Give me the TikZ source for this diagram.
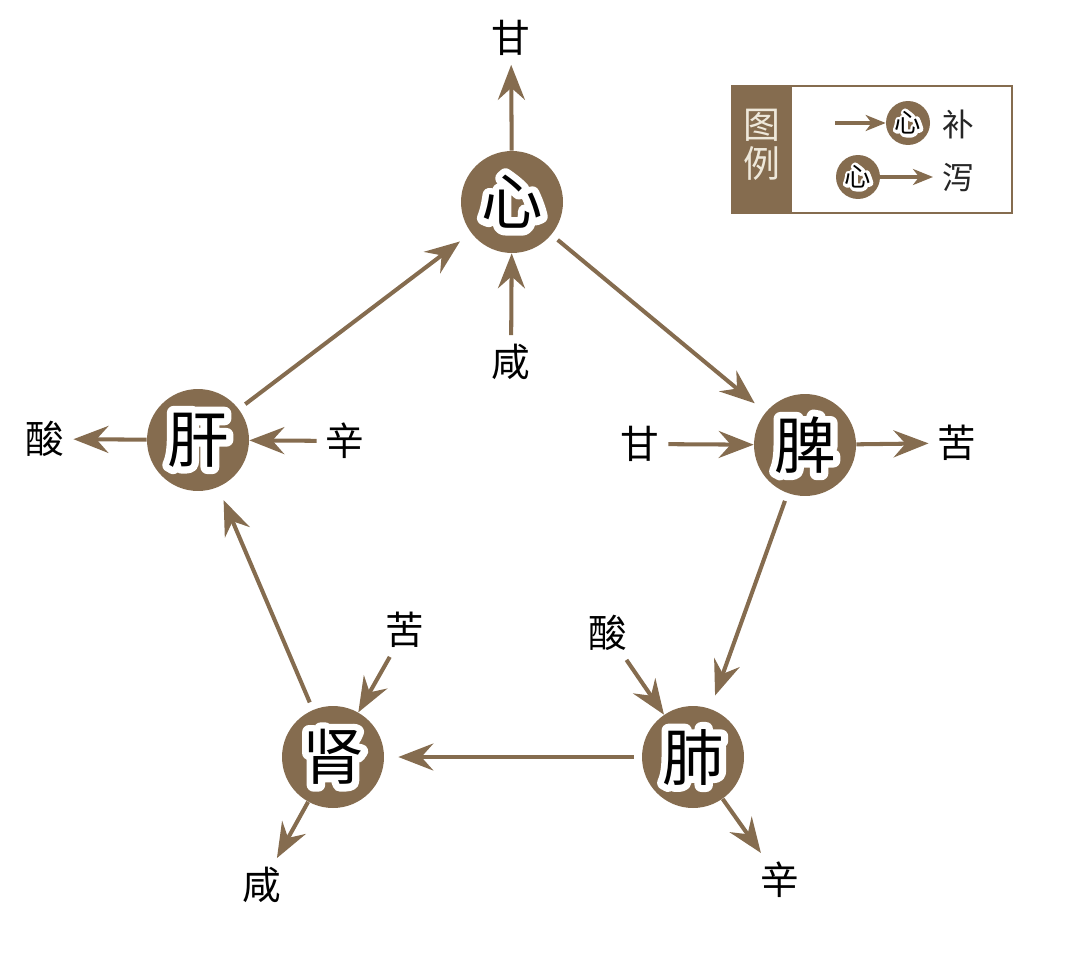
\documentclass[tikz,border=0pt]{standalone}
\usepackage{fontspec}
\usepackage{tikz}
\usetikzlibrary{arrows.meta}
\newfontfamily\cjk{Noto Sans CJK SC}
\definecolor{zang}{RGB}{133,108,79}
\definecolor{pale}{RGB}{238,232,218}
\tikzset{organ/.style={circle,fill=zang,minimum size=2.04cm,inner sep=0,font=\cjk\fontsize{35}{35}\selectfont}}
\tikzset{organ small/.style={circle,fill=zang,minimum size=0.88cm,inner sep=0,font=\cjk\fontsize{15}{15}\selectfont}}
\tikzset{taste/.style={font=\cjk\fontsize{22}{22}\selectfont,inner sep=5pt}}
\tikzset{leg text/.style={font=\cjk\fontsize{18}{18}\selectfont,text=black!85,inner sep=3pt}}
\tikzset{arr/.style={draw=zang,line width=2.3pt,-{Stealth[length=0.7cm,width=0.54cm,inset=0.24cm]}}}
\tikzset{arr small/.style={draw=zang,line width=1.8pt,-{Stealth[length=0.4cm,width=0.32cm,inset=0.12cm]}}}
\tikzset{ring/.style={arr,shorten <=0.16cm,shorten >=0.28cm}}
% 白い縁取り（文字の輪郭を太く描いてから黒で重ねる）
\newcommand\halo[2]{%
  \rlap{\special{pdf:literal direct 1 Tr #1 w 1 1 1 RG 1 j}#2\special{pdf:literal direct 0 Tr}}%
  #2}

\begin{document}
\begin{tikzpicture}[x=0.02cm,y=-0.02cm]
  \useasboundingbox (0,0) rectangle (1070,959);

  %円
  \node[organ] (xin) at (512,202) {\halo{8}{心}};
  \node[organ] (pi) at (805,445) {\halo{8}{脾}};
  \node[organ] (fei) at (693,757) {\halo{8}{肺}};
  \node[organ] (shen) at (333,757) {\halo{8}{肾}};
  \node[organ] (gan) at (198,440) {\halo{8}{肝}};

  %ラベル
  \node[taste] (xinOut) at (511,38) {甘};
  \node[taste] (xinIn) at (511,362) {咸};
  \node[taste] (piIn) at (640,444) {甘};
  \node[taste] (piOut) at (957,443) {苦};
  \node[taste] (feiIn) at (608,633) {酸};
  \node[taste] (feiOut) at (780,880) {辛};
  \node[taste] (shenIn) at (405,630) {苦};
  \node[taste] (shenOut) at (262,885) {咸};
  \node[taste] (ganOut) at (45,439) {酸};
  \node[taste] (ganIn) at (345,441) {辛};

  %矢印（相生）
  \draw[ring] (gan) -- (xin);
  \draw[ring] (xin) -- (pi);
  \draw[ring] (pi) -- (fei);
  \draw[ring] (fei) -- (shen);
  \draw[ring] (shen) -- (gan);

  %矢印（補・瀉）
  \draw[arr] (xin) -- (xinOut);
  \draw[arr] (xinIn) -- (xin);
  \draw[arr] (piIn) -- (pi);
  \draw[arr] (pi) -- (piOut);
  \draw[arr] (feiIn) -- (fei);
  \draw[arr] (fei) -- (feiOut);
  \draw[arr] (shenIn) -- (shen);
  \draw[arr] (shen) -- (shenOut);
  \draw[arr] (gan) -- (ganOut);
  \draw[arr] (ganIn) -- (gan);

  %凡例
  \draw[zang,line width=1.5pt,fill=white] (732,86) rectangle (1012,213);
  \fill[zang] (732,86) rectangle (792,213);
  \node[font=\cjk\fontsize{21}{22}\selectfont,text=pale,align=center,inner sep=0] (tuli) at (762,145) {图\\例};
  \node[organ small] (legBu) at (908,123) {\halo{3.5}{心}};
  \node[organ small] (legXie) at (858,177) {\halo{3.5}{心}};
  \coordinate (buStart) at (835,123);
  \coordinate (xieEnd) at (933,177);
  \draw[arr small] (buStart) -- (legBu);
  \draw[arr small] (legXie) -- (xieEnd);
  \node[leg text] (bu) at (958,124) {补};
  \node[leg text] (xie) at (958,178) {泻};

\end{tikzpicture}
\end{document}
